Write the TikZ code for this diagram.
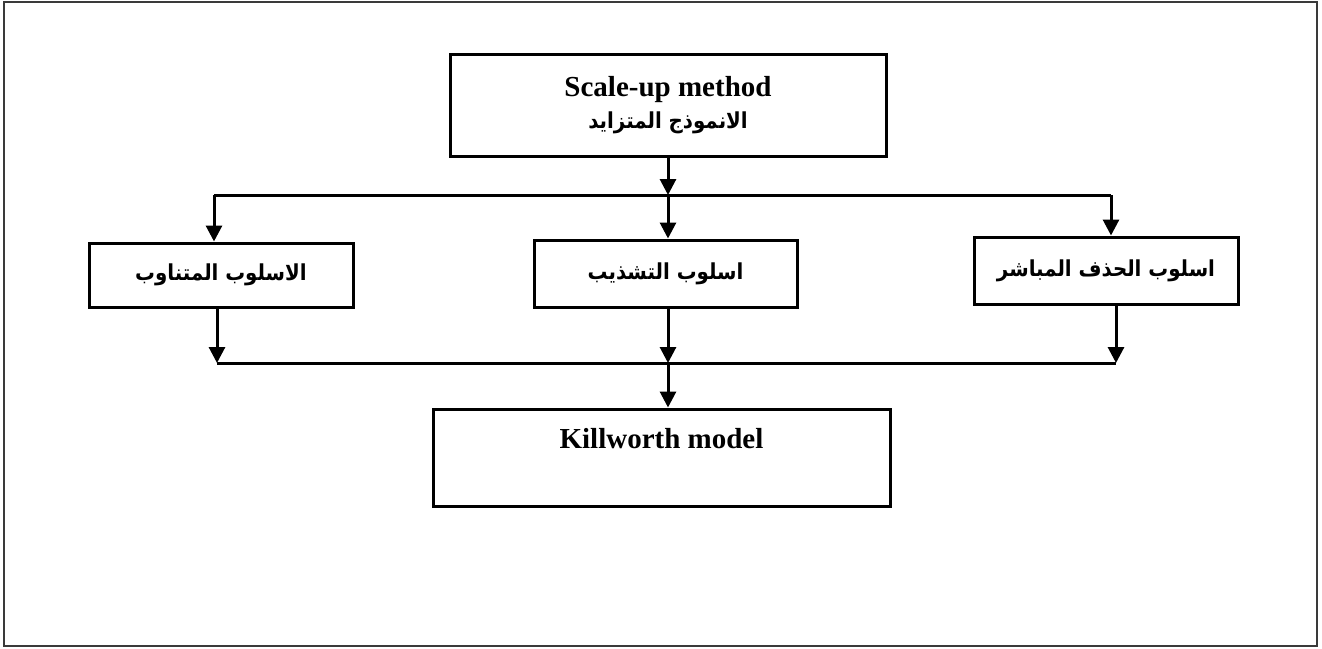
\documentclass[tikz,border=0pt]{standalone}
\usepackage{fontspec}
\setmainfont{Liberation Serif}
\newfontfamily\arabicfont[Script=Arabic]{DejaVu Sans Condensed}
\TeXXeTstate=1
\usetikzlibrary{arrows.meta}
\definecolor{kmInk}{HTML}{000000}
\definecolor{kmEdge}{HTML}{3A3A3A}
\tikzset{
  km frame/.style={draw=kmEdge, line width=2pt},
  km box/.style={draw=kmInk, line width=3pt, inner sep=0pt, align=center, minimum width=264pt},
  km line/.style={draw=kmInk, line width=3pt},
  km arrow/.style={km line, -{Triangle[length=16pt,width=16pt]}},
  km en/.style={font=\fontsize{29}{32}\selectfont\bfseries},
  km ar/.style={font=\arabicfont\bfseries\fontsize{22}{28}\selectfont},
}

\begin{document}
\begin{tikzpicture}[x=1pt,y=-1pt]
  \useasboundingbox (0,0) rectangle (1322,648);
  \draw[km frame] (4,2) rectangle (1317,646);
  % Top and bottom boxes
  \node[km box, km en, minimum width=436pt, minimum height=102pt] (scale) at (668,105)
    {Scale-up method\\[0pt]{\arabicfont\bfseries\fontsize{22}{28}\selectfont\beginR الانموذج المتزايد\endR}};
  \node[km box, km en, minimum width=457pt, text height=39pt, text depth=58pt] (kill) at (661.5,457.5)
    {Killworth model};
  % The three methods
  \node[km box, km ar, minimum height=64pt] (alt) at (221,275) {\beginR الاسلوب المتناوب\endR};
  \node[km box, km ar, minimum width=263pt, minimum height=67pt] (hyb) at (665.5,273.5) {\beginR اسلوب التشذيب\endR};
  \node[km box, km ar, minimum height=67pt] (dir) at (1106,270.5) {\beginR اسلوب الحذف المباشر\endR};
  % Rails
  \coordinate (top rail) at (668,195);
  \coordinate (alt in) at (214,195);
  \coordinate (dir in) at (1111,195);
  \coordinate (bot rail) at (668,363);
  \coordinate (alt out) at (217,363);
  \coordinate (dir out) at (1116,363);
  \draw[km line] (alt in) -- (dir in);
  \draw[km line] (alt out) -- (dir out);
  \draw[km arrow] (scale.south -| top rail) -- (top rail);
  \draw[km arrow] (top rail) -- (top rail |- hyb.north);
  \draw[km arrow] (alt in) -- (alt in |- alt.north);
  \draw[km arrow] (dir in) -- (dir in |- dir.north);
  \draw[km arrow] (alt.south -| alt out) -- (alt out);
  \draw[km arrow] (hyb.south -| bot rail) -- (bot rail);
  \draw[km arrow] (dir.south -| dir out) -- (dir out);
  \draw[km arrow] (bot rail) -- (bot rail |- kill.north);
\end{tikzpicture}
\end{document}
